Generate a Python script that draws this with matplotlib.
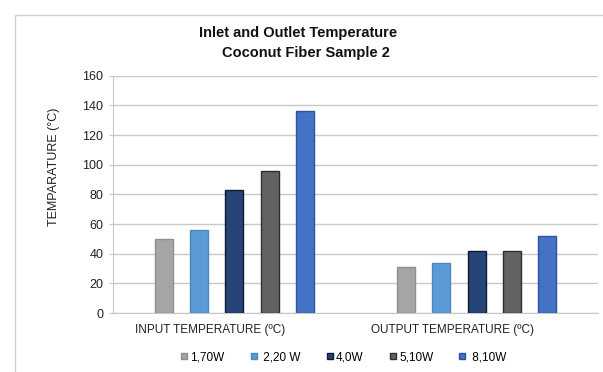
import matplotlib
matplotlib.use("Agg")
import matplotlib.pyplot as plt
from matplotlib.lines import Line2D
from matplotlib.patches import Rectangle
import numpy as np

plt.rcParams["font.family"] = ["Liberation Sans", "DejaVu Sans"]

categories = ["INPUT TEMPERATURE (ºC)", "OUTPUT TEMPERATURE (ºC)"]
series = ["1,70W", " 2,20 W", "4,0W", "5,10W", " 8,10W"]
values = {
    "1,70W": [50, 31],
    " 2,20 W": [56, 34],
    "4,0W": [83, 41.5],
    "5,10W": [96, 41.5],
    " 8,10W": [136.5, 52],
}
fills = ["#a5a5a5", "#5b9bd5", "#264478", "#636363", "#4472c4"]
edges = ["#8f8f8f", "#4a87c0", "#0d1a33", "#2e2e2e", "#2c52a0"]

fig = plt.figure(figsize=(6.03, 3.72), dpi=100)
W, H = 603, 372

# light frame around chart area (cropped on right/bottom)
fig.patches.append(Rectangle((15 / W, -0.1), 1.2, 1 - 15 / H + 0.1,
                             transform=fig.transFigure, fill=False,
                             edgecolor="#d0d0d0", linewidth=1.0))

ax = fig.add_axes([113 / W, 1 - 313 / H, (598 - 113) / W, (313 - 75.7) / H])

x = np.arange(len(categories))
step = 0.1456
width = 0.074
for i, name in enumerate(series):
    ax.bar(x + (i - 2) * step, values[name], width=width, color=fills[i],
           edgecolor=edges[i], linewidth=1.0, zorder=3)

ax.set_xlim(-0.5, 1.5)
ax.set_ylim(0, 160)
ax.set_yticks(np.arange(0, 161, 20))
ax.yaxis.grid(True, color="#c8c8c8", linewidth=1.0, zorder=0)
ax.set_axisbelow(True)
ax.tick_params(axis="y", length=3, color="#c8c8c8", labelsize=9,
               labelcolor="#222222", pad=4)
ax.set_xticks(x - 0.1)
ax.set_xticklabels(categories, fontsize=8.5, color="#222222")
ax.tick_params(axis="x", length=0, pad=8)
for side in ["top", "right"]:
    ax.spines[side].set_visible(False)
ax.spines["left"].set_color("#c8c8c8")
ax.spines["bottom"].set_color("#c8c8c8")

ax.set_ylabel("TEMPARATURE (°C)", fontsize=9, color="#222222")
ax.yaxis.set_label_coords(-0.11, 0.615)

fig.text(298 / W, 1 - 33 / H, "Inlet and Outlet Temperature", ha="center",
         va="center", fontsize=10.5, fontweight="bold", color="#111111")
fig.text(306 / W, 1 - 53 / H, "Coconut Fiber Sample 2", ha="center",
         va="center", fontsize=10.5, fontweight="bold", color="#111111")

handles = [Line2D([], [], marker="s", linestyle="none", markersize=5,
                  markerfacecolor=fills[i], markeredgecolor=edges[i])
           for i in range(len(series))]
fig.legend(handles, series, loc="center", bbox_to_anchor=(343 / W, 1 - 357 / H),
           ncol=5, frameon=False, fontsize=8.5, handlelength=0.7,
           handletextpad=0.2, columnspacing=2.1)

fig.savefig("out.png", dpi=100)
